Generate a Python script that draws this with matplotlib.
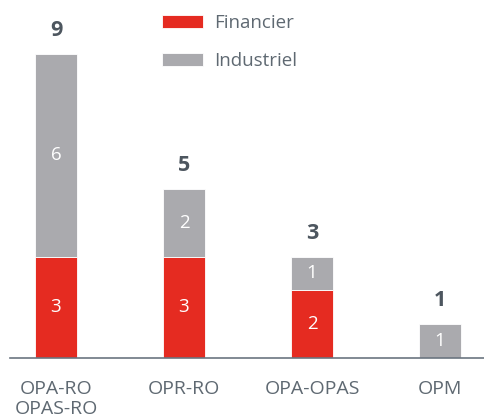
import matplotlib
matplotlib.use("Agg")
from matplotlib import pyplot as plt
import numpy as np

categories = ['OPA-RO\nOPAS-RO', 'OPR-RO', 'OPA-OPAS', 'OPM']
financier = [3, 3, 2, 0]
industriel = [6, 2, 1, 1]
totals = [9, 5, 3, 1]

red = '#e52b21'
grey = '#aaaaae'
txt = '#5f6972'

plt.rcParams['font.family'] = ['Open Sans', 'DejaVu Sans']

fig = plt.figure(figsize=(4.85, 4.18), dpi=100)
ax = fig.add_axes([10/485, 60/418, 475/485, 358/418])

x = np.arange(len(categories))
w = 0.33
ax.bar(x, financier, w, color=red, label='Financier', edgecolor='white', linewidth=0.6)
ax.bar(x, industriel, w, bottom=financier, color=grey, label='Industriel', edgecolor='white', linewidth=0.6)

# numbers inside the segments
for i in range(len(x)):
    if financier[i] > 0:
        ax.text(x[i], financier[i] / 2, str(financier[i]), ha='center', va='center',
                color='white', fontsize=13.5)
    if industriel[i] > 0:
        ax.text(x[i], financier[i] + industriel[i] / 2, str(industriel[i]), ha='center',
                va='center', color='white', fontsize=13.5)
    ax.text(x[i], totals[i] + 0.38, str(totals[i]), ha='center', va='bottom',
            color='#4d565f', fontsize=15.5, fontweight='bold')

ax.set_xlim(-46/128, 429/128)
ax.set_ylim(0, 358/33.8)

ax.set_xticks(x)
ax.set_xticklabels(categories, fontsize=14, color=txt, linespacing=1.1)
ax.tick_params(axis='x', length=0, pad=16)
ax.set_yticks([])
for s in ['top', 'right', 'left']:
    ax.spines[s].set_visible(False)
ax.spines['bottom'].set_color('#6b7580')
ax.spines['bottom'].set_linewidth(1.2)

leg = ax.legend(loc='upper left', bbox_to_anchor=(152/475, 1.0 - 14/358), frameon=False,
                fontsize=13.5, handlelength=2.2, handleheight=0.75, labelspacing=1.07,
                handletextpad=0.6, borderaxespad=0, borderpad=0)
for t in leg.get_texts():
    t.set_color(txt)

fig.savefig('out.png', dpi=100)
